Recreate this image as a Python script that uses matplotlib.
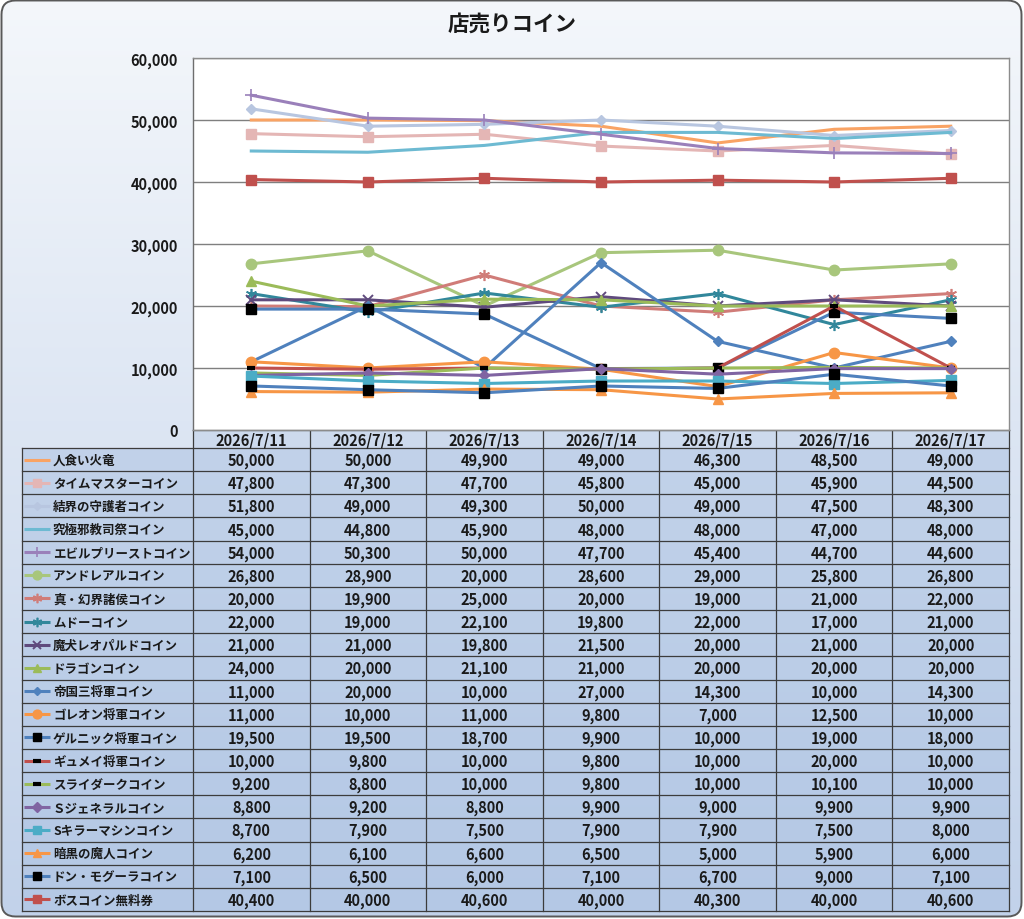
import matplotlib
matplotlib.use('Agg')
import matplotlib.pyplot as plt
import matplotlib.colors as mcolors
import numpy as np
from matplotlib.patches import FancyBboxPatch, Rectangle
from matplotlib.ticker import FuncFormatter, MultipleLocator

plt.rcParams['font.family'] = ['Noto Sans CJK JP', 'DejaVu Sans']

title = '店売りコイン'
dates = ['2026/7/11', '2026/7/12', '2026/7/13', '2026/7/14',
         '2026/7/15', '2026/7/16', '2026/7/17']

names = ['人食い火竜', 'タイムマスターコイン', '結界の守護者コイン', '究極邪教司祭コイン',
         'エビルプリーストコイン', 'アンドレアルコイン', '真・幻界諸侯コイン', 'ムドーコイン',
         '魔犬レオパルドコイン', 'ドラゴンコイン', '帝国三将軍コイン', 'ゴレオン将軍コイン',
         'ゲルニック将軍コイン', 'ギュメイ将軍コイン', 'スライダークコイン', 'Ｓジェネラルコイン',
         'Sキラーマシンコイン', '暗黒の魔人コイン', 'ドン・モグーラコイン', 'ボスコイン無料券']

hitokui = [50000, 50000, 49900, 49000, 46300, 48500, 49000]
timemaster = [47800, 47300, 47700, 45800, 45000, 45900, 44500]
kekkai = [51800, 49000, 49300, 50000, 49000, 47500, 48300]
kyukyoku = [45000, 44800, 45900, 48000, 48000, 47000, 48000]
evilpriest = [54000, 50300, 50000, 47700, 45400, 44700, 44600]
andreal = [26800, 28900, 20000, 28600, 29000, 25800, 26800]
genkai = [20000, 19900, 25000, 20000, 19000, 21000, 22000]
mudo = [22000, 19000, 22100, 19800, 22000, 17000, 21000]
leopard = [21000, 21000, 19800, 21500, 20000, 21000, 20000]
dragon = [24000, 20000, 21100, 21000, 20000, 20000, 20000]
teikoku = [11000, 20000, 10000, 27000, 14300, 10000, 14300]
goreon = [11000, 10000, 11000, 9800, 7000, 12500, 10000]
gelnick = [19500, 19500, 18700, 9900, 10000, 19000, 18000]
gyumei = [10000, 9800, 10000, 9800, 10000, 20000, 10000]
slidark = [9200, 8800, 10000, 9800, 10000, 10100, 10000]
sgeneral = [8800, 9200, 8800, 9900, 9000, 9900, 9900]
skiller = [8700, 7900, 7500, 7900, 7900, 7500, 8000]
ankoku = [6200, 6100, 6600, 6500, 5000, 5900, 6000]
donmogura = [7100, 6500, 6000, 7100, 6700, 9000, 7100]
boss = [40400, 40000, 40600, 40000, 40300, 40000, 40600]

series = [hitokui, timemaster, kekkai, kyukyoku, evilpriest, andreal, genkai, mudo,
          leopard, dragon, teikoku, goreon, gelnick, gyumei, slidark, sgeneral,
          skiller, ankoku, donmogura, boss]

# style: (line color, marker, marker size, marker face, marker edge, mew)
styles = [
    ('#F9A364', 'None', 0, None, None, 1),
    ('#E4B6B5', 's', 7.5, '#E4B6B5', '#E4B6B5', 1),
    ('#B8C6E0', 'D', 5, '#B8C6E0', '#B8C6E0', 1),
    ('#6DBAD2', 'None', 0, None, None, 1),
    ('#9A80BA', '+', 8, '#9A80BA', '#9A80BA', 1.2),
    ('#A8C67C', 'o', 7.5, '#A8C67C', '#A8C67C', 1),
    ('#D07C78', (6, 2, 0), 8, '#D07C78', '#D07C78', 1.2),
    ('#31879B', (6, 2, 0), 8, '#31879B', '#31879B', 1.2),
    ('#5F4A7D', 'x', 6.5, '#5F4A7D', '#5F4A7D', 1.4),
    ('#9BBB59', '^', 7, '#9BBB59', '#9BBB59', 1),
    ('#4F81BD', 'D', 5, '#4F81BD', '#4F81BD', 1),
    ('#F79646', 'o', 7.5, '#F79646', '#F79646', 1),
    ('#4F81BD', 's', 7, '#000000', '#000000', 1),
    ('#C0504D', '_', 6, '#000000', '#000000', 3),
    ('#9BBB59', '_', 6, '#000000', '#000000', 3),
    ('#8064A2', 'D', 5.5, '#8064A2', '#8064A2', 1),
    ('#4BACC6', 's', 7, '#4BACC6', '#4BACC6', 1),
    ('#F79646', '^', 7, '#F79646', '#F79646', 1),
    ('#4F81BD', 's', 7, '#000000', '#000000', 1),
    ('#C0504D', 's', 7.5, '#C0504D', '#C0504D', 1),
]

W, H = 1024, 920
fig = plt.figure(figsize=(W / 100, H / 100), dpi=100)
fig.patch.set_facecolor('white')

# background with rounded frame and gradient
bg = fig.add_axes([0, 0, 1, 1], zorder=0)
bg.set_xlim(0, W)
bg.set_ylim(H, 0)
bg.axis('off')
t = np.linspace(0, 1, 256).reshape(-1, 1, 1)
c_top = np.array(mcolors.to_rgb('#F4F7FB'))
c_bot = np.array(mcolors.to_rgb('#C2D2EA'))
img = c_top + (c_bot - c_top) * t
im = bg.imshow(img, extent=(1.5, W - 2.5, H - 2.5, 1.5), aspect='auto', zorder=0,
               interpolation='bilinear')
frame = FancyBboxPatch((1.5, 1.5), W - 4, H - 4,
                       boxstyle='round,pad=0,rounding_size=14',
                       fc='none', ec='#595959', lw=1.4, zorder=5)
bg.add_patch(frame)
im.set_clip_path(frame)

bg.text(W / 2, 24, title, ha='center', va='center', fontsize=15.5,
        fontweight='bold', color='#1a1a1a')

# table geometry
x_left = 22
x0 = 193
x_right = 1009
col_w = (x_right - x0) / 7
y_head_top = 431
y_rows_top = 449
y_bottom = 912
row_h = (y_bottom - y_rows_top) / len(names)

bg.add_patch(Rectangle((x_left, y_rows_top), x_right - x_left, y_bottom - y_rows_top,
                       fc='#A3BCDF', alpha=0.45, ec='none', zorder=1))
bg.add_patch(Rectangle((x0, y_head_top), x_right - x0, y_rows_top - y_head_top,
                       fc='#B3C7E4', alpha=0.35, ec='none', zorder=1))

line_c = '#3C3C3C'
for k in range(len(names) + 1):
    yy = y_rows_top + k * row_h
    bg.plot([x_left, x_right], [yy, yy], color=line_c, lw=0.9, zorder=2)
bg.plot([x0, x_right], [y_head_top, y_head_top], color=line_c, lw=0.9, zorder=2)
bg.plot([x_left, x_left], [y_rows_top, y_bottom], color=line_c, lw=0.9, zorder=2)
for j in range(8):
    xx = x0 + j * col_w
    bg.plot([xx, xx], [y_head_top, y_bottom], color=line_c, lw=0.9, zorder=2)

num_font = dict(fontsize=10.5, fontweight='bold', color='#1a1a1a')
for j, d in enumerate(dates):
    bg.text(x0 + (j + 0.5) * col_w, (y_head_top + y_rows_top) / 2 + 0.5, d,
            ha='center', va='center', zorder=3, **num_font)

for i, (nm, vals, st) in enumerate(zip(names, series, styles)):
    yc = y_rows_top + (i + 0.5) * row_h
    col, mk, ms, mfc, mec, mew = st
    bg.plot([24, 37, 50], [yc, yc, yc], color=col, lw=2.2, marker=mk,
            markersize=ms * 0.85, markerfacecolor=mfc, markeredgecolor=mec,
            markeredgewidth=mew, markevery=[1], zorder=3, solid_capstyle='butt')
    bg.text(53, yc + 0.5, nm, ha='left', va='center', fontsize=9, fontweight='bold',
            color='#1a1a1a', zorder=3)
    for j, v in enumerate(vals):
        bg.text(x0 + (j + 0.5) * col_w, yc + 0.5, f'{v:,}', ha='center', va='center',
                zorder=3, **num_font)

# main plot
ax = fig.add_axes([x0 / W, 1 - y_head_top / H, (x_right - x0) / W, (y_head_top - 59) / H],
                  zorder=1)
ax.set_facecolor('white')
x = np.arange(len(dates))
for vals, st in zip(series, styles):
    col, mk, ms, mfc, mec, mew = st
    ax.plot(x, vals, color=col, lw=2.2, marker=mk, markersize=ms,
            markerfacecolor=mfc, markeredgecolor=mec, markeredgewidth=mew, zorder=3)
ax.set_xlim(-0.5, len(dates) - 0.5)
ax.set_ylim(0, 60000)
ax.yaxis.set_major_locator(MultipleLocator(10000))
ax.yaxis.set_major_formatter(FuncFormatter(lambda v, p: f'{int(v):,}'))
ax.grid(axis='y', color='#7F7F7F', lw=1.0)
ax.set_axisbelow(True)
ax.set_xticks([])
ax.tick_params(axis='y', length=0, pad=11, labelsize=10.5, labelcolor='#1a1a1a')
for lab in ax.get_yticklabels():
    lab.set_fontweight('bold')
for s in ['top', 'right', 'bottom']:
    ax.spines[s].set_color('#8C8C8C')
    ax.spines[s].set_linewidth(1.0)
ax.spines['left'].set_color('#6E6E6E')
ax.spines['left'].set_linewidth(1.0)

fig.savefig('out.png', dpi=100, facecolor=fig.get_facecolor())
